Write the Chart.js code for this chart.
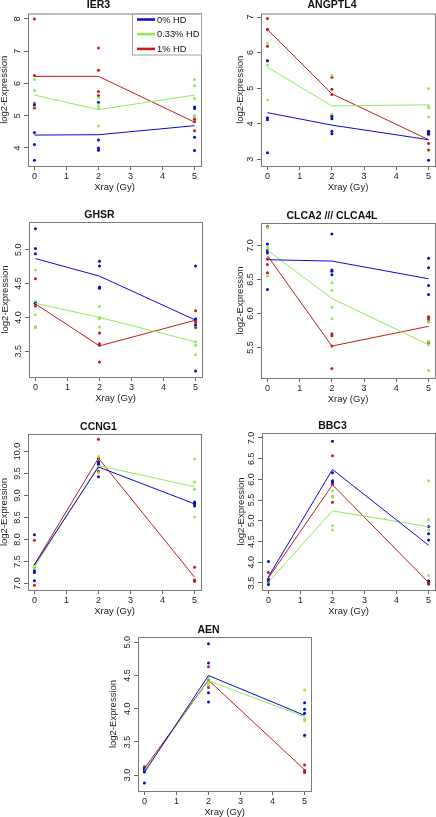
<!DOCTYPE html>
<html><head><meta charset="utf-8">
<script src="https://cdn.jsdelivr.net/npm/chart.js@4.4.0/dist/chart.umd.min.js"></script>
<style>
html,body{margin:0;padding:0;background:#fff;width:436px;height:817px;overflow:hidden;position:relative;}
canvas{position:absolute;}
</style></head><body>
<script>
// ---------------- data ----------------
const doses = [0, 2, 5];
const xTickLabels = ['0', '1', '2', '3', '4', '5'];
const seriesNames = ['0% HD', '0.33% HD', '1% HD'];
const genes = ['IER3', 'ANGPTL4', 'GHSR', 'CLCA2 /// CLCA4L', 'CCNG1', 'BBC3', 'AEN'];

// IER3
const IER3_hd0 = [[5.34, 4.48, 4.11, 3.62], [5.42, 4.25, 4.00, 3.93], [5.27, 5.22, 4.33, 3.92]];
const IER3_hd033 = [[6.12, 5.78, 5.36, 5.31], [5.55, 5.31, 5.22, 4.68], [6.12, 5.93, 5.53, 4.98]];
const IER3_hd1 = [[8.00, 6.25, 5.39, 5.24], [7.10, 6.41, 5.75, 5.63], [4.99, 4.89, 4.81, 4.53]];
const IER3_hd0_mean = [4.40, 4.41, 4.69];
const IER3_hd033_mean = [5.64, 5.19, 5.64];
const IER3_hd1_mean = [6.22, 6.22, 4.80];
const IER3_yTicks = ['4', '5', '6', '7', '8'];
const IER3_yRange = [3.44, 8.17];

// ANGPTL4
const ANGPTL4_hd0 = [[5.77, 4.17, 4.11, 3.18], [4.20, 4.14, 3.79, 3.72], [3.79, 3.74, 3.70, 2.97]];
const ANGPTL4_hd033 = [[6.26, 5.78, 5.65, 4.67], [5.36, 4.26, 4.22, 4.16], [4.99, 4.50, 4.44, 4.19]];
const ANGPTL4_hd1 = [[6.96, 6.66, 6.64, 6.18], [5.31, 4.97, 4.82, 4.25], [3.78, 3.72, 3.44, 3.26]];
const ANGPTL4_hd0_mean = [4.31, 3.96, 3.55];
const ANGPTL4_hd033_mean = [5.59, 4.50, 4.53];
const ANGPTL4_hd1_mean = [6.65, 4.84, 3.55];
const ANGPTL4_yTicks = ['3', '4', '5', '6', '7'];
const ANGPTL4_yRange = [2.81, 7.10];

// GHSR
const GHSR_hd0 = [[5.31, 5.02, 4.94, 4.21], [4.83, 4.76, 4.45, 4.43], [4.76, 3.98, 3.89, 3.21]];
const GHSR_hd033 = [[4.70, 4.24, 4.04, 3.86], [4.16, 4.00, 3.98, 3.86], [3.88, 3.64, 3.59, 3.45]];
const GHSR_hd1 = [[4.57, 4.21, 4.17, 3.86], [3.77, 3.61, 3.59, 3.34], [4.10, 3.96, 3.93, 3.85]];
const GHSR_hd0_mean = [4.87, 4.61, 3.96];
const GHSR_hd033_mean = [4.21, 4.00, 3.64];
const GHSR_hd1_mean = [4.20, 3.58, 3.96];
const GHSR_yTicks = ['3.5', '4.0', '4.5', '5.0'];
const GHSR_yRange = [3.12, 5.41];

// CLCA2 /// CLCA4L
const CLCA2_hd0 = [[7.02, 6.92, 6.89, 6.35], [7.17, 6.64, 6.62, 6.57], [6.81, 6.67, 6.41, 6.28]];
const CLCA2_hd033 = [[7.26, 6.97, 6.94, 6.55], [6.45, 6.34, 6.09, 5.92], [5.87, 5.59, 5.54, 5.16]];
const CLCA2_hd1 = [[7.28, 6.80, 6.72, 6.60], [5.70, 5.67, 5.52, 5.19], [5.95, 5.92, 5.88, 5.57]];
const CLCA2_hd0_mean = [6.79, 6.77, 6.51];
const CLCA2_hd033_mean = [6.93, 6.22, 5.54];
const CLCA2_hd1_mean = [6.85, 5.52, 5.81];
const CLCA2_yTicks = ['5.5', '6.0', '6.5', '7.0'];
const CLCA2_yRange = [5.05, 7.33];

// CCNG1
const CCNG1_hd0 = [[8.11, 7.28, 7.25, 7.06], [9.77, 9.73, 9.71, 9.43], [8.85, 8.82, 8.81, 8.76]];
const CCNG1_hd033 = [[7.42, 7.38, 7.36, 7.32], [9.89, 9.75, 9.63, 9.52], [9.83, 9.31, 9.14, 8.51]];
const CCNG1_hd1 = [[7.98, 7.41, 7.37, 6.96], [10.28, 9.85, 9.72, 9.55], [7.37, 7.08, 7.06, 7.05]];
const CCNG1_hd0_mean = [7.42, 9.65, 8.81];
const CCNG1_hd033_mean = [7.37, 9.68, 9.20];
const CCNG1_hd1_mean = [7.43, 9.85, 7.14];
const CCNG1_yTicks = ['7.0', '7.5', '8.0', '8.5', '9.0', '9.5', '10.0'];
const CCNG1_yRange = [6.85, 10.40];

// BBC3
const BBC3_hd0 = [[4.02, 3.58, 3.55, 3.46], [6.92, 6.16, 5.97, 5.93], [4.86, 4.69, 4.54, 3.55]];
const BBC3_hd033 = [[3.58, 3.52, 3.50, 3.48], [5.72, 5.58, 4.88, 4.78], [5.97, 5.03, 4.78, 3.68]];
const BBC3_hd1 = [[3.75, 3.60, 3.58, 3.55], [6.57, 5.88, 5.58, 5.45], [3.55, 3.52, 3.50, 3.47]];
const BBC3_hd0_mean = [3.65, 6.24, 4.41];
const BBC3_hd033_mean = [3.52, 5.24, 4.86];
const BBC3_hd1_mean = [3.62, 5.87, 3.51];
const BBC3_yTicks = ['3.5', '4.0', '4.5', '5.0', '5.5', '6.0', '6.5', '7.0'];
const BBC3_yRange = [3.33, 7.12];

// AEN
const AEN_hd0 = [[3.11, 3.08, 3.05, 2.88], [4.98, 4.69, 4.24, 4.10], [4.09, 3.99, 3.93, 3.60]];
const AEN_hd033 = [[3.12, 3.10, 3.06, 3.04], [4.47, 4.42, 4.40, 4.36], [4.28, 3.85, 3.82, 3.58]];
const AEN_hd1 = [[3.13, 3.11, 3.09, 3.07], [4.63, 4.43, 4.41, 4.32], [3.15, 3.07, 3.06, 3.04]];
const AEN_hd0_mean = [3.04, 4.50, 3.90];
const AEN_hd033_mean = [3.07, 4.42, 3.88];
const AEN_hd1_mean = [3.10, 4.43, 3.08];
const AEN_yTicks = ['3.0', '3.5', '4.0', '4.5', '5.0'];
const AEN_yRange = [2.76, 5.08];

// ---------------- layout / style (not data) ----------------
// plot box [left, top, right, bottom] in page pixels, title gap above the box
const panelBoxes = [
  [28, 13, 201, 166, 8.5],
  [261, 13, 435, 166, 8.5],
  [29, 222, 202, 377, 7],
  [261, 223, 435, 378, 7],
  [28, 434, 201, 590, 7],
  [262, 433, 435, 590, 7],
  [138, 637, 311, 791, 7]
];
const yTitleOffsets = [23.5, 21, 24, 21, 24, 21, 24.5];
const colors = ['#0a0ad2', '#90e85c', '#c41a1a'];
const FONT = "'Liberation Sans', Arial, Helvetica, sans-serif";

const panels = [
  { s: [IER3_hd0, IER3_hd033, IER3_hd1], m: [IER3_hd0_mean, IER3_hd033_mean, IER3_hd1_mean], t: IER3_yTicks, r: IER3_yRange, legend: true },
  { s: [ANGPTL4_hd0, ANGPTL4_hd033, ANGPTL4_hd1], m: [ANGPTL4_hd0_mean, ANGPTL4_hd033_mean, ANGPTL4_hd1_mean], t: ANGPTL4_yTicks, r: ANGPTL4_yRange },
  { s: [GHSR_hd0, GHSR_hd033, GHSR_hd1], m: [GHSR_hd0_mean, GHSR_hd033_mean, GHSR_hd1_mean], t: GHSR_yTicks, r: GHSR_yRange },
  { s: [CLCA2_hd0, CLCA2_hd033, CLCA2_hd1], m: [CLCA2_hd0_mean, CLCA2_hd033_mean, CLCA2_hd1_mean], t: CLCA2_yTicks, r: CLCA2_yRange },
  { s: [CCNG1_hd0, CCNG1_hd033, CCNG1_hd1], m: [CCNG1_hd0_mean, CCNG1_hd033_mean, CCNG1_hd1_mean], t: CCNG1_yTicks, r: CCNG1_yRange },
  { s: [BBC3_hd0, BBC3_hd033, BBC3_hd1], m: [BBC3_hd0_mean, BBC3_hd033_mean, BBC3_hd1_mean], t: BBC3_yTicks, r: BBC3_yRange },
  { s: [AEN_hd0, AEN_hd033, AEN_hd1], m: [AEN_hd0_mean, AEN_hd033_mean, AEN_hd1_mean], t: AEN_yTicks, r: AEN_yRange }
];

// R-style box + rotated y tick labels + inset legend
const rStylePlugin = {
  id: 'rStyle',
  afterDatasetsDraw(chart, args, opts) {
    const ctx = chart.ctx, ca = chart.chartArea;
    ctx.save();
    ctx.strokeStyle = '#7a7a7a';
    ctx.lineWidth = 1;
    ctx.strokeRect(ca.left + 0.5, ca.top + 0.5, ca.right - ca.left, ca.bottom - ca.top);
    const ys = chart.scales.y;
    ctx.fillStyle = '#222';
    ctx.font = '9px ' + FONT;
    ctx.textAlign = 'center';
    ctx.textBaseline = 'middle';
    ys.ticks.forEach((tk, i) => {
      const py = ys.getPixelForValue(tk.value);
      ctx.save();
      ctx.translate(ca.left - 10, py);
      ctx.rotate(-Math.PI / 2);
      ctx.fillText(opts.labels[i], 0, 0);
      ctx.restore();
    });
    if (opts.legend) {
      const bx = ca.right - 69, by = ca.top;
      ctx.fillStyle = '#fff';
      ctx.fillRect(bx + 1, by + 1, ca.right - bx - 1, 40);
      ctx.strokeStyle = '#a0a0a0';
      ctx.strokeRect(bx + 0.5, by + 0.5, ca.right - bx, 41);
      ctx.font = '9.3px ' + FONT;
      ctx.textAlign = 'left';
      ctx.textBaseline = 'middle';
      seriesNames.forEach((nm, i) => {
        const ry = by + 6 + i * 14.7;
        ctx.strokeStyle = colors[i];
        ctx.lineWidth = 2.5;
        ctx.beginPath(); ctx.moveTo(bx + 5, ry); ctx.lineTo(bx + 23, ry); ctx.stroke();
        ctx.fillStyle = '#111';
        ctx.fillText(nm, bx + 25, ry + 0.5);
      });
    }
    ctx.restore();
  }
};

const padL = 32, xH = 28, titleA = 2;

panels.forEach((p, k) => {
  const [L, T, R, B, gap] = panelBoxes[k];
  const boxW = R - L, boxH = B - T;
  const titleB = gap - 6;
  const chartTop = titleA + 12 + titleB;
  const cv = document.createElement('canvas');
  const W = boxW + 2 * padL, H = chartTop + boxH + xH;
  cv.width = W; cv.height = H;
  cv.style.width = W + 'px'; cv.style.height = H + 'px';
  cv.style.left = (L - padL) + 'px';
  cv.style.top = (T - chartTop) + 'px';
  document.body.appendChild(cv);

  const datasets = [];
  p.m.forEach((mean, si) => {
    datasets.push({
      label: seriesNames[si] + ' mean',
      data: doses.map((d, i) => ({ x: d, y: mean[i] })),
      showLine: true, pointRadius: 0, borderWidth: 1,
      borderColor: colors[si], backgroundColor: colors[si], tension: 0, order: 0
    });
  });
  p.s.forEach((ser, si) => {
    datasets.push({
      label: seriesNames[si],
      data: doses.flatMap((d, i) => ser[i].map(v => ({ x: d, y: v }))),
      showLine: false, pointRadius: 1.5, pointBorderWidth: 0,
      backgroundColor: colors[si], borderColor: colors[si], order: 1
    });
  });

  const yTitleOff = yTitleOffsets[k];
  new Chart(cv, {
    type: 'scatter',
    data: { datasets },
    options: {
      responsive: false, animation: false, devicePixelRatio: 1,
      layout: { padding: { left: 0, top: 0, right: padL, bottom: 0 } },
      plugins: {
        legend: { display: false },
        tooltip: { enabled: false },
        title: {
          display: true, text: genes[k], color: '#111',
          font: { family: FONT, size: 10.5, weight: 'bold', lineHeight: '12px' },
          padding: { top: titleA, bottom: titleB }
        },
        rStyle: { labels: p.t, legend: !!p.legend }
      },
      scales: {
        x: {
          type: 'linear', min: -0.2, max: 5.2,
          afterBuildTicks: s => { s.ticks = xTickLabels.map(v => ({ value: parseFloat(v) })); },
          afterFit: s => { s.height = xH; },
          ticks: { font: { family: FONT, size: 9 }, color: '#222', padding: 1, maxRotation: 0, autoSkip: false,
                   callback: (v, i) => xTickLabels[i] },
          grid: { display: true, drawOnChartArea: false, drawTicks: true, tickLength: 4, color: '#666' },
          border: { display: false },
          title: { display: true, text: 'Xray (Gy)', color: '#222',
                   font: { family: FONT, size: 9.5, lineHeight: '11px' }, padding: { top: 0, bottom: 1.5 } }
        },
        y: {
          type: 'linear', min: p.r[0], max: p.r[1],
          afterBuildTicks: s => { s.ticks = p.t.map(v => ({ value: parseFloat(v) })); },
          afterFit: s => { s.width = padL; },
          ticks: { display: false },
          grid: { display: true, drawOnChartArea: false, drawTicks: true, tickLength: 4, color: '#666' },
          border: { display: false },
          title: { display: true, text: 'log2-Expression', color: '#222',
                   font: { family: FONT, size: 9.5, lineHeight: '11px' },
                   padding: { top: padL - yTitleOff - 5.5, bottom: 0 } }
        }
      }
    },
    plugins: [rStylePlugin]
  });
});
</script>
</body></html>
